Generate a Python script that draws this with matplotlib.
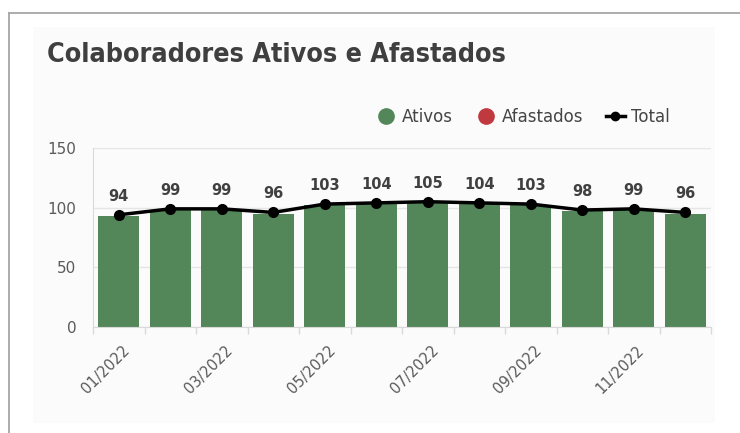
import matplotlib
matplotlib.use("Agg")
import matplotlib.pyplot as plt
from matplotlib.lines import Line2D
from matplotlib.patches import Rectangle
import matplotlib.transforms as mtransforms

months = ["01/2022", "02/2022", "03/2022", "04/2022", "05/2022", "06/2022",
          "07/2022", "08/2022", "09/2022", "10/2022", "11/2022", "12/2022"]
ativos = [93, 98, 98, 95, 102, 103, 104, 103, 102, 97, 98, 95]
total = [94, 99, 99, 96, 103, 104, 105, 104, 103, 98, 99, 96]
yticks = [0, 50, 100, 150]

W, H = 740, 433
fig = plt.figure(figsize=(W / 100, H / 100), dpi=100)
fig.patch.set_facecolor("white")

# outer frame lines
fig.add_artist(Line2D([9 / W, 9 / W], [0, 1 - 13 / H], transform=fig.transFigure,
                      color="#a6a6a6", lw=1.3))
fig.add_artist(Line2D([9 / W, 1], [1 - 13 / H, 1 - 13 / H], transform=fig.transFigure,
                      color="#a6a6a6", lw=1.3))
# inner panel
fig.add_artist(Rectangle((33 / W, 1 - 423 / H), (715 - 33) / W, (423 - 27) / H,
                         transform=fig.transFigure, facecolor="#fbfbfb",
                         edgecolor="none", zorder=-1))

fig.text(47 / W, 1 - 55 / H, "Colaboradores Ativos e Afastados", fontsize=19.3,
         fontweight="bold", color="#3f3f3f", va="center", ha="left",
         fontstretch="condensed")

left, right, top, bottom = 93, 711, 148, 327
ax = fig.add_axes([left / W, 1 - bottom / H, (right - left) / W, (bottom - top) / H])
ax.set_facecolor("none")

x = list(range(len(months)))
green = "#53875a"
red = "#c0393f"
ax.bar(x, ativos, width=0.8, color=green, zorder=2)
ax.plot(x, total, color="black", lw=2.5, marker="o", markersize=7, zorder=3)
for xi, v in zip(x, total):
    ax.annotate(str(v), (xi, v), xytext=(0, 8), textcoords="offset points",
                ha="center", va="bottom", fontsize=10.5, color="#404040",
                fontweight="semibold")

ax.set_xlim(-0.5, len(months) - 0.5)
ax.set_ylim(0, 150)
ax.set_yticks(yticks)
ax.tick_params(axis="y", length=0, labelsize=11, labelcolor="#5a5a5a", pad=12)
ax.yaxis.grid(True, color="#e6e6e6", lw=1, zorder=0)
ax.set_axisbelow(True)

ax.set_xticks([i - 0.5 for i in range(len(months) + 1)], minor=False)
ax.set_xticklabels([])
ax.tick_params(axis="x", which="major", length=5, color="#d9d9d9", width=1)
ax.set_xticks(x[::2], minor=True)
ax.set_xticklabels(months[::2], minor=True, rotation=45, ha="right",
                   rotation_mode="anchor", fontsize=10.5, color="#5a5a5a")
ax.tick_params(axis="x", which="minor", length=0, pad=11)
offset = mtransforms.ScaledTranslation(3 / 100, 0, fig.dpi_scale_trans)
for lab in ax.get_xticklabels(minor=True):
    lab.set_transform(lab.get_transform() + offset)

for s in ["top", "right"]:
    ax.spines[s].set_visible(False)
ax.spines["left"].set_color("#d9d9d9")
ax.spines["bottom"].set_color("#d9d9d9")

handles = [
    Line2D([], [], marker="o", ls="none", markersize=11, color=green),
    Line2D([], [], marker="o", ls="none", markersize=11, color=red),
    Line2D([], [], marker="o", color="black", lw=2.5, markersize=6),
]
fig.legend(handles, ["Ativos", "Afastados", "Total"], loc="center right",
           bbox_to_anchor=(685 / W, 1 - 117 / H), ncol=3, frameon=False,
           fontsize=12, handlelength=1.1, handletextpad=0.4, columnspacing=1.4,
           labelcolor="#444444")

fig.savefig("out.png", dpi=100)
